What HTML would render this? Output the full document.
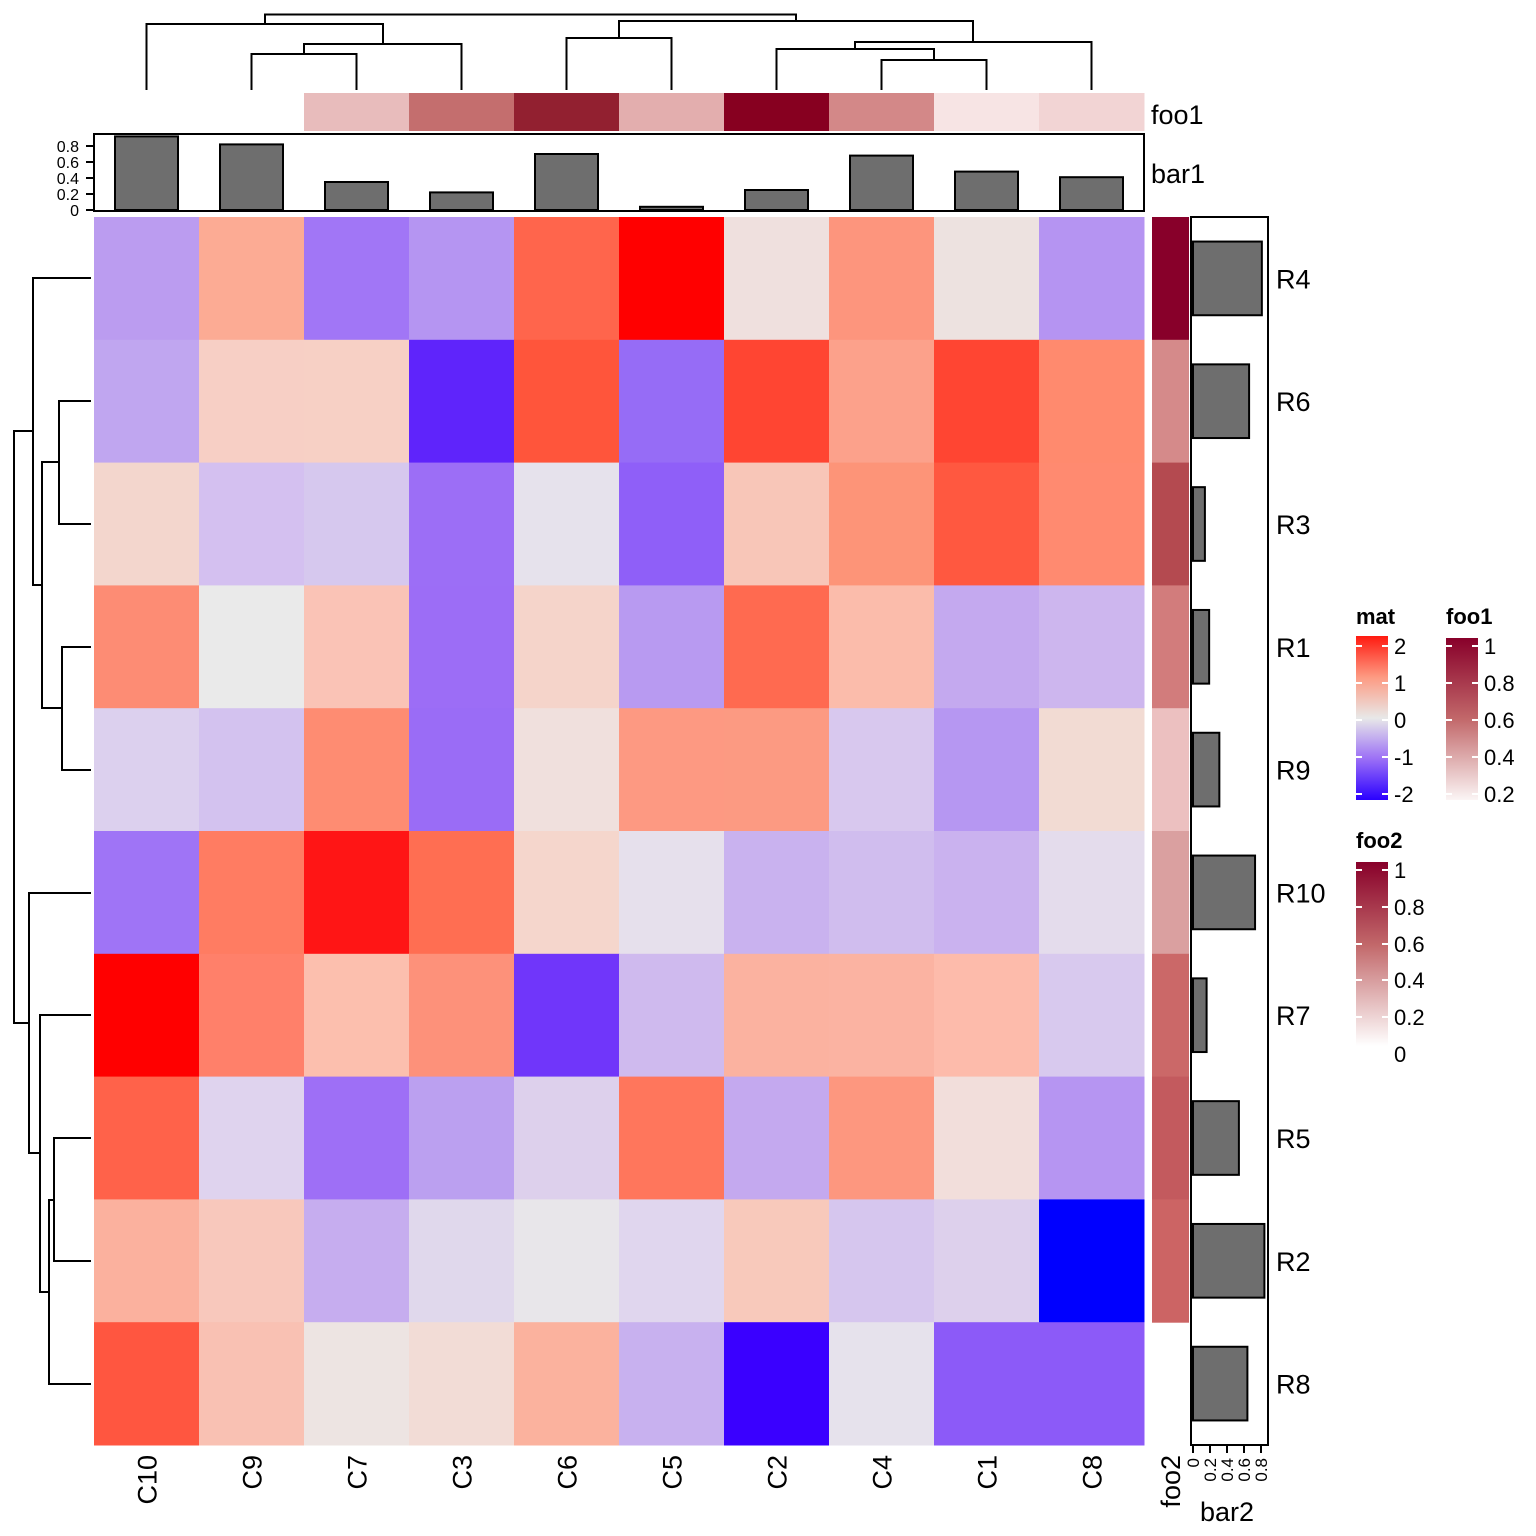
<!DOCTYPE html>
<html><head><meta charset="utf-8"><style>body{margin:0;background:#fff}svg{display:block}</style></head><body>
<svg width="1536" height="1536" xmlns="http://www.w3.org/2000/svg" font-family="Liberation Sans, sans-serif">
<defs>
<linearGradient id="gm" x1="0" y1="0" x2="0" y2="1"><stop offset="0" stop-color="#ff1a10"/><stop offset="0.25" stop-color="#fd9a82"/><stop offset="0.5" stop-color="#e8e8e8"/><stop offset="0.75" stop-color="#9b6ff6"/><stop offset="1" stop-color="#2a00ff"/></linearGradient>
<linearGradient id="gf" x1="0" y1="0" x2="0" y2="1"><stop offset="0" stop-color="#88002a"/><stop offset="0.5" stop-color="#c2686a"/><stop offset="1" stop-color="#fbf5f5"/></linearGradient>
<linearGradient id="gf2" x1="0" y1="0" x2="0" y2="1"><stop offset="0" stop-color="#88002a"/><stop offset="0.45" stop-color="#c2686a"/><stop offset="1" stop-color="#ffffff"/></linearGradient>
</defs>
<g id="hm"></g>
<g fill="none" stroke="#000" stroke-width="2">
<path d="M251.5 90V54H356.5V90M304 54V44H461.5V90M383 44V24H146.5V90M265 24V14.5H796V21"/>
<path d="M566.5 90V38H671.5V90M986.5 90V60H881.5V90M934 60V49H776.5V90M855 49V42H1091.5V90M973 42V21H619V38"/>
<path d="M91 401V401H59V524H91M91 647H62V770H91M59 462H42V708H62M42 585H33V278H91M33 431H14V1023H29"/>
<path d="M91 1138H54V1261H91M54 1200H49V1384H91M49 1292H40V1015H91M40 1153H29V893H91"/>
</g>
<g stroke="#000" stroke-width="2" fill="#6e6e6e">
<rect x="94" y="134" width="1050" height="77" fill="none"/>
<rect x="1191" y="217" width="77" height="1228" fill="none"/>
</g>
<g id="bars" fill="#6e6e6e" stroke="#000" stroke-width="2"></g>
<g font-size="16" text-anchor="end" fill="#000">
<text x="79" y="216">0</text><text x="79" y="200">0.2</text><text x="79" y="184">0.4</text><text x="79" y="168">0.6</text><text x="79" y="152">0.8</text>
</g>
<g stroke="#000" stroke-width="2"><path d="M86 210H94M86 194H94M86 178H94M86 162H94M86 146H94"/>
<path d="M1193 1445V1453M1210 1445V1453M1227 1445V1453M1244 1445V1453M1261 1445V1453"/></g>
<g font-size="17" fill="#000">
<text transform="translate(1199,1458) rotate(-90)" text-anchor="end">0</text>
<text transform="translate(1216,1458) rotate(-90)" text-anchor="end">0.2</text>
<text transform="translate(1233,1458) rotate(-90)" text-anchor="end">0.4</text>
<text transform="translate(1250,1458) rotate(-90)" text-anchor="end">0.6</text>
<text transform="translate(1267,1458) rotate(-90)" text-anchor="end">0.8</text>
</g>
<g font-size="27" fill="#000">
<text x="1151" y="124">foo1</text><text x="1151" y="183">bar1</text>
<text transform="translate(1180,1455) rotate(-90)" text-anchor="end">foo2</text>
<text x="1200" y="1521">bar2</text>
</g>
<g id="rl" font-size="27" fill="#000"></g>
<g id="cl" font-size="27" fill="#000"></g>
<g font-size="22" fill="#000">
<text x="1356" y="624" font-weight="bold">mat</text>
<rect x="1356" y="636" width="32" height="164" fill="url(#gm)"/>
<text x="1394" y="654">2</text><text x="1394" y="691">1</text><text x="1394" y="728">0</text><text x="1394" y="765">-1</text><text x="1394" y="802">-2</text>
<text x="1446" y="624" font-weight="bold">foo1</text>
<rect x="1446" y="638" width="32" height="162" fill="url(#gf)"/>
<text x="1484" y="654">1</text><text x="1484" y="691">0.8</text><text x="1484" y="728">0.6</text><text x="1484" y="765">0.4</text><text x="1484" y="802">0.2</text>
<text x="1356" y="848" font-weight="bold">foo2</text>
<rect x="1356" y="862" width="32" height="184" fill="url(#gf2)"/>
<text x="1394" y="878">1</text><text x="1394" y="915">0.8</text><text x="1394" y="952">0.6</text><text x="1394" y="988">0.4</text><text x="1394" y="1025">0.2</text><text x="1394" y="1062">0</text>
</g>
<g stroke="#fff" stroke-width="2">
<path d="M1356 646h6M1382 646h6M1356 683h6M1382 683h6M1356 720h6M1382 720h6M1356 757h6M1382 757h6M1356 794h6M1382 794h6"/>
<path d="M1446 646h6M1472 646h6M1446 683h6M1472 683h6M1446 720h6M1472 720h6M1446 757h6M1472 757h6M1446 794h6M1472 794h6"/>
<path d="M1356 870h6M1382 870h6M1356 907h6M1382 907h6M1356 944h6M1382 944h6M1356 980h6M1382 980h6M1356 1017h6M1382 1017h6"/>
</g>
<script>
var NS="http://www.w3.org/2000/svg";
function el(p,t,a,txt){var e=document.createElementNS(NS,t);for(var k in a)e.setAttribute(k,a[k]);if(txt)e.textContent=txt;p.appendChild(e);return e;}
var M=[
["#bb9cf0","#fcab94","#a176f6","#b595f2","#ff654c","#ff0000","#efe0de","#fd957d","#ede2e0","#b594f2"],
["#c0a6f0","#f7cfc5","#f7d0c5","#5f24fb","#ff553b","#966cf6","#ff4532","#fca18b","#ff4532","#ff8a6e"],
["#f3d6cd","#d4c0f0","#d6c8ee","#9c6ef6","#e6e2ec","#8f5ff8","#f8c6b8","#fd9478","#ff5840","#ff8a70"],
["#fd8c74","#eaeaea","#fac3b6","#9c6df6","#f5d4ca","#b89af1","#ff6a50","#fbbcab","#c4a9ef","#cdb6ee"],
["#dcd0ee","#d3c2ef","#fe8c72","#9a6cf6","#f0e0dd","#fd9982","#fc9a82","#d8c8ee","#b697f2","#f2dbd3"],
["#9f74f6","#ff7c62","#ff1515","#ff6e52","#f5d6cc","#e6e0ec","#c9b2ef","#d0bdee","#cab2ef","#e4dcec"],
["#ff0000","#ff806a","#fcbfae","#fd917a","#7036fa","#cfbaee","#fbb2a0","#fbb3a2","#fdbbab","#d8c9ee"],
["#ff624a","#dfd3ee","#9e6ff6","#bba0f0","#ddd0ec","#ff765c","#c4a9ef","#fd977f","#f2dedb","#b695f2"],
["#fbb19e","#f8c8bc","#c6adef","#e0d8ec","#e8e6ea","#e0d6ee","#f8c9bb","#d6c6ee","#ddd0ec","#0000ff"],
["#ff5640","#f9c1b3","#ede4e2","#f2dcd6","#fbb29e","#c8b1ef","#3a00ff","#e6e2ec","#8c5af8","#8c5af8"]];
var rows=["R4","R6","R3","R1","R9","R10","R7","R5","R2","R8"];
var cols=["C10","C9","C7","C3","C6","C5","C2","C4","C1","C8"];
var foo1=[null,null,"#e8bcbc","#c46e6e","#922030","#e3aeae","#870020","#d38888","#f7e4e4","#f2d4d4"];
var foo2=["#88002a","#d58a8a","#b44a50","#d27c7c","#ecc0c0","#daa0a0","#cb6868","#c35a5e","#cc6464",null];
var b1=[0.92,0.82,0.35,0.22,0.7,0.04,0.25,0.68,0.48,0.41];
var b2=[0.81,0.66,0.14,0.19,0.31,0.73,0.16,0.54,0.84,0.64];
var hm=document.getElementById("hm"),bars=document.getElementById("bars"),rl=document.getElementById("rl"),cl=document.getElementById("cl");
var cw=105,rh=122.8;
for(var i=0;i<10;i++){var y=217+i*rh;
 for(var j=0;j<10;j++)el(hm,"rect",{x:94+j*cw,y:y,width:cw+0.5,height:rh+0.5,fill:M[i][j]});
 if(foo2[i])el(hm,"rect",{x:1152,y:y,width:37,height:rh+0.5,fill:foo2[i]});
 el(bars,"rect",{x:1193,y:y+rh*0.2,width:b2[i]*85,height:rh*0.6});
 el(rl,"text",{x:1276,y:y+rh/2+10},rows[i]);}
for(var j=0;j<10;j++){var x=94+j*cw;
 if(foo1[j])el(hm,"rect",{x:x,y:93,width:cw+0.5,height:38,fill:foo1[j]});
 el(bars,"rect",{x:x+21,y:210-b1[j]*80,width:63,height:b1[j]*80});
 el(cl,"text",{transform:"translate("+(x+cw/2+10)+",1455) rotate(-90)","text-anchor":"end"},cols[j]);}
</script>
</svg>
</body></html>
